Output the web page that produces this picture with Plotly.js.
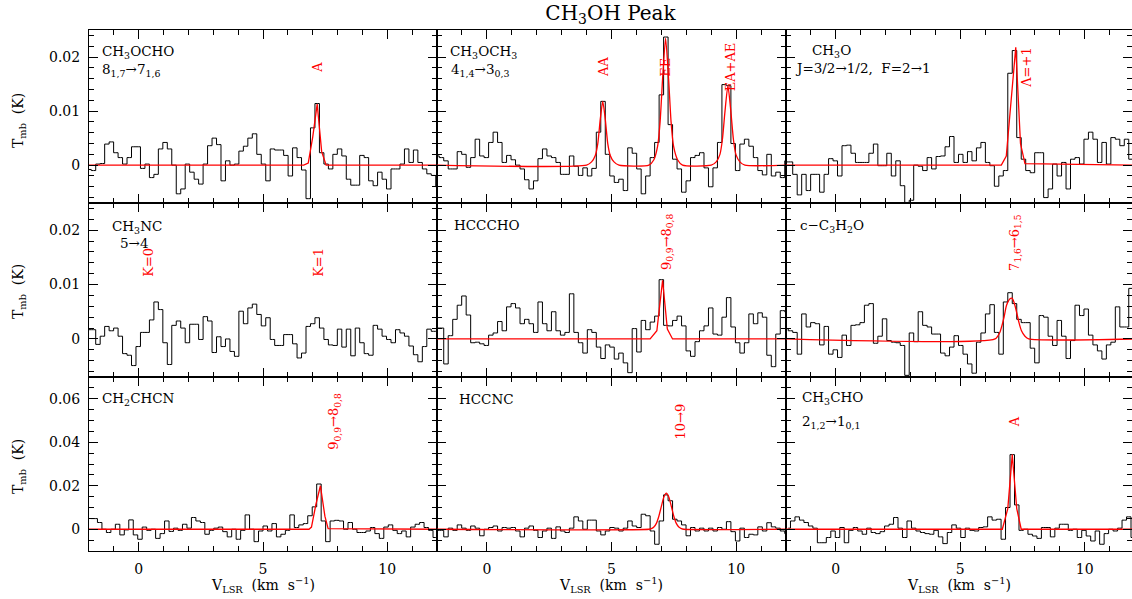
<!DOCTYPE html>
<html><head><meta charset="utf-8">
<script src="https://cdn.plot.ly/plotly-3.0.1.min.js"></script>
<style>html,body{margin:0;padding:0;background:#fff}#chart{width:1132px;height:599px}</style>
</head><body><div id="chart"></div>
<script>
// ---------------- DATA ----------------
const channelWidth = 0.18; // km/s
const firstChannelVel = [-2, -2, -2, -2, -2, -2, -1.93, -2, -1.91];

const spec_CH3OCHO = [-0.0008,-0.001,0.0002,0.0003,0.0039,0.0043,0.0023,0.0014,0.0002,0.0014,
 0.0034,0.0034,-0.0006,0.0002,-0.0023,-0.0017,0.003,0.0042,0.003,0.0,
 -0.0053,-0.0044,0.0002,-0.0013,-0.0026,-0.0035,0.0002,0.0036,0.005,0.0038,
 -0.0029,0.0008,0.0,0.0002,0.0026,0.0035,0.005,0.0058,0.002,0.0002,
 -0.0029,0.003,0.0028,0.0028,0.0018,-0.002,0.0032,0.0014,-0.0009,-0.0062,
 0.0069,0.0114,0.0023,0.0002,-0.0007,0.002,0.003,0.0017,-0.0026,-0.0037,
 -0.0037,0.0018,0.0014,-0.0029,-0.0038,-0.0013,-0.0026,-0.0044,-0.0007,-0.0007,
 0.0002,0.003,0.0005,0.0028,0.0005,-0.0007,-0.0016,-0.0019,-0.004];
const spec_CH3OCH3 = [0.0017,0.0014,0.0008,-0.0007,-0.0007,0.0025,0.002,-0.0004,0.0014,0.0048,
 0.0017,0.0014,0.0042,0.0061,0.0042,0.0005,0.0018,0.001,0.0,-0.0007,
 -0.0027,-0.0044,-0.0029,0.0012,0.003,0.0017,0.0014,0.0005,-0.0017,-0.0017,
 0.0017,-0.0002,-0.0019,-0.0005,-0.002,-0.0006,0.0061,0.0118,0.002,-0.002,
 -0.0032,-0.0026,-0.0047,0.0032,0.0022,-0.0007,-0.0053,-0.002,0.0014,0.0042,
 0.013,0.0237,0.0075,0.0011,-0.0007,-0.005,-0.0029,0.0014,0.0018,0.0023,
 -0.0005,-0.004,-0.0005,0.0042,0.0149,0.0147,0.004,-0.001,0.0039,0.0048,
 0.0035,0.0014,-0.001,-0.0018,0.002,-0.002,-0.0013,-0.0023,0.0008];
const spec_CH3O = [0.0006,0.0006,-0.0017,-0.0055,-0.0017,-0.0047,-0.0017,-0.0017,-0.005,-0.0017,
 0.0012,0.0008,-0.002,0.0036,0.0037,0.0022,0.0005,0.0005,0.0005,0.0022,
 0.0039,-0.0001,-0.0001,0.0022,-0.002,0.0008,-0.0038,-0.0069,-0.0065,0.0,
 -0.0002,-0.001,0.0014,-0.0007,0.0016,0.0017,0.0034,0.0053,0.0005,0.002,
 0.0005,0.0025,0.0008,0.0032,0.0042,0.0005,-0.0001,-0.0039,-0.002,-0.001,
 0.017,0.0212,0.0051,0.0011,-0.001,-0.0014,0.0023,0.0023,-0.006,-0.0044,
 0.0002,-0.002,0.0005,-0.0044,0.0011,0.0014,0.0002,0.0048,0.0061,0.0048,
 0.0005,0.0042,0.0002,0.0051,0.0048,0.0036,0.0048,0.0011,0.0011];
const spec_CH3NC = [0.0017,0.0017,-0.001,0.0005,0.0023,0.0015,0.002,0.0005,-0.0027,-0.003,
 -0.0049,-0.0014,0.0012,0.0012,0.0035,0.0068,0.0054,-0.0007,-0.0047,0.0025,
 0.0033,0.002,-0.0007,0.0027,0.0027,-0.0001,0.0041,0.0033,-0.0025,0.0004,
 -0.0014,0.0,-0.0023,-0.0032,0.0051,0.0028,0.0057,0.0064,0.0045,0.0024,
 0.0039,-0.0001,-0.0012,-0.0012,0.0008,0.0008,-0.0009,-0.0035,-0.0026,0.0023,
 0.0028,0.0039,0.002,-0.0001,-0.0011,-0.0012,0.0018,-0.0015,0.0018,-0.0031,
 0.002,-0.0007,-0.0027,-0.003,0.0025,0.0018,0.0005,-0.0001,-0.0007,0.0017,
 0.0011,0.0005,-0.0013,-0.0029,-0.0042,-0.0014,0.0018,0.0014,0.0014];
const spec_HCCCHO = [0.002,0.002,-0.0046,0.0006,0.0036,0.0062,0.0079,0.0044,-0.0007,-0.0006,
 -0.0009,-0.0012,0.0007,0.0011,0.0032,0.0015,0.0059,0.0065,0.0057,0.0028,
 0.0036,0.0028,0.0012,0.0068,0.0028,0.0015,0.005,0.0015,0.0007,0.0012,
 0.0083,0.0012,-0.0007,-0.0026,0.0017,0.0012,-0.0015,-0.0036,-0.0011,-0.0015,
 -0.0037,-0.0026,-0.0044,-0.0062,0.0019,-0.0024,0.0034,0.0017,0.0031,0.0042,
 0.0109,0.0025,0.0024,0.0034,0.0042,0.0024,-0.0022,-0.0032,-0.0005,0.0015,
 0.0024,0.0057,0.0009,0.0007,0.004,0.0076,0.0022,-0.0007,-0.0026,-0.0007,
 0.0046,0.0028,0.0048,0.004,-0.003,-0.0051,0.0009,0.0052,0.005];
const spec_cC3H2O = [0.0019,0.0015,0.0012,-0.0028,0.0046,0.0022,0.003,0.0028,-0.0011,0.0023,
 -0.0028,-0.002,-0.0034,0.0007,-0.0012,0.0025,0.0026,0.003,0.0062,0.0065,
 -0.0008,0.0005,0.0037,-0.0003,-0.0006,-0.0007,-0.0012,-0.0067,0.0011,-0.0005,
 0.005,0.0025,0.0022,0.0009,0.0009,-0.0026,-0.0031,-0.0015,0.0006,-0.0012,
 -0.0028,-0.0046,-0.0063,-0.0006,0.0011,0.0046,0.0063,0.0012,-0.0028,0.0068,
 0.0085,0.0065,0.0036,0.003,0.003,-0.0017,-0.0044,0.0043,0.004,0.0005,
 -0.0012,0.0034,0.0005,-0.0036,-0.0003,0.0062,0.0043,0.0055,0.0007,-0.0011,
 -0.0022,-0.0037,-0.0011,-0.0006,0.0059,0.0022,0.0022,0.0093,0.0093];
const spec_CH2CHCN = [0.0049,0.0049,0.0031,0.0,-0.0015,0.0,0.0023,-0.0026,-0.0003,0.0043,
 -0.0026,-0.0046,0.001,-0.0005,0.0,-0.0042,-0.002,0.0038,-0.001,0.0005,
 -0.0005,0.0023,0.0005,0.0054,0.0038,0.0031,-0.0023,-0.0005,0.0005,0.001,
 -0.0011,-0.0035,0.0,-0.0046,-0.0005,0.0066,0.0,-0.0057,-0.0008,0.0015,
 -0.0008,0.0026,-0.0035,-0.0023,-0.0005,0.0066,0.0008,0.002,0.0026,0.0062,
 0.0103,0.0208,0.0038,-0.0057,0.0038,0.0041,0.0038,0.0,0.0031,0.0,
 -0.0015,-0.0015,-0.0008,0.0008,-0.002,-0.0042,0.001,0.002,-0.0005,-0.002,
 -0.0008,-0.0035,0.001,0.0023,0.0031,0.0008,-0.0005,-0.0038,-0.0072];
const spec_HCCNC = [-0.0005,-0.0005,-0.0035,0.0005,-0.0005,0.002,0.0005,-0.0005,0.0015,0.0005,
 -0.003,0.0,0.0008,0.0015,-0.0008,0.0008,0.0005,0.0008,-0.0008,-0.0035,
 0.0005,0.0015,-0.0005,-0.0038,-0.0008,0.0005,-0.0042,0.0011,-0.0008,-0.0015,
 0.0005,0.0057,0.0038,0.0,0.0042,0.0042,-0.0008,-0.0026,-0.0008,0.0008,
 0.0005,-0.0008,0.0005,0.0038,0.0015,0.0008,0.0069,0.0062,-0.0008,-0.0069,
 0.0038,0.0158,0.0131,0.0046,0.0038,0.002,-0.003,0.0008,-0.0008,0.0005,
 -0.0008,0.0005,-0.0008,0.0008,0.0,0.0035,-0.0011,-0.0054,0.0005,-0.0038,
 -0.0023,-0.0026,0.0011,-0.0008,0.003,0.0011,0.0005,-0.0008,-0.002];
const spec_CH3CHO = [0.0005,0.0038,0.0057,0.0042,0.0031,0.0015,0.0005,-0.0062,-0.0062,-0.0038,
 -0.0008,-0.0038,0.0008,-0.0062,-0.0005,0.0008,-0.0008,-0.0023,0.0005,-0.0015,
 -0.002,-0.0011,0.0015,0.0023,0.0054,0.0005,-0.0038,0.0038,0.0005,-0.0008,
 -0.0015,-0.002,-0.0023,-0.0005,-0.0035,-0.0066,-0.0015,0.002,0.0005,-0.0038,
 0.0005,-0.0005,-0.0008,0.0008,0.0011,0.0057,0.0042,0.0046,-0.0046,0.01,
 0.0343,0.0112,-0.0005,0.0,-0.0023,-0.0031,-0.0042,0.0008,0.0008,-0.0035,
 0.0005,0.0023,0.0023,-0.0005,0.0,-0.0038,-0.0005,-0.0031,-0.0054,-0.0008,
 -0.0069,-0.002,0.0,-0.0008,0.0005,0.0042,0.0057,-0.0038];

// Gaussian fits (red)
const fitVel_CH3OCHO = [-2, 6.64, 6.82, 7.0, 7.18, 7.36, 7.54, 12];
const fitT_CH3OCHO   = [0, 0, 0.0004, 0.0052, 0.0113, 0.0025, 0, 0];
const fitVel_CH3OCH3 = [-2,4.0,4.2,4.35,4.45,4.55,4.65,4.75,4.85,4.95,5.1,5.3,
 6.5,6.7,6.85,6.95,7.05,7.17,7.29,7.39,7.49,7.65,7.85,
 9.0,9.2,9.35,9.45,9.55,9.67,9.79,9.89,9.99,10.15,10.35,12];
const fitT_CH3OCH3 = [0,0,0.0006,0.0018,0.004,0.0085,0.0118,0.0085,0.004,0.0018,0.0006,0,
 0,0.001,0.0035,0.008,0.016,0.0235,0.016,0.008,0.0035,0.001,0,
 0,0.0006,0.002,0.0048,0.0098,0.0147,0.0098,0.0048,0.002,0.0006,0,0];
const fitVel_CH3O = [-2, 6.65, 6.85, 7.23, 7.42, 7.6, 12];
const fitT_CH3O   = [0, 0, 0.0017, 0.0218, 0.004, 0.0003, 0];
const fitVel_HCCCHO = [-2, 6.55, 6.82, 7.05, 7.24, 7.45, 12];
const fitT_HCCCHO   = [0, 0, 0.0015, 0.0108, 0.0018, 0, 0];
const fitVel_cC3H2O = [-2, 6.4, 6.59, 6.75, 6.86, 7.0, 7.08, 7.17, 7.26, 7.36, 7.46, 7.6, 7.75, 12];
const fitT_cC3H2O   = [0, 0, 0.0012, 0.0038, 0.0062, 0.0074, 0.0075, 0.0066, 0.005, 0.003, 0.0015, 0.0005, 0, 0];
const fitVel_CH2CHCN = [-2, 6.85, 6.95, 7.13, 7.31, 7.49, 7.62, 12];
const fitT_CH2CHCN   = [0, 0, 0.001, 0.0115, 0.02, 0.006, 0.0003, 0];
const fitVel_HCCNC = [-2,6.5,6.6,6.7,6.8,6.9,7.0,7.1,7.2,7.3,7.4,7.5,7.6,7.7,7.8,7.9,12];
const fitT_HCCNC   = [0,0,0.0003,0.001,0.0027,0.006,0.0105,0.0148,0.0166,0.0148,0.0105,0.006,0.0027,0.001,0.0003,0,0];
const fitVel_CH3CHO = [-2, 6.69, 6.91, 7.09, 7.27, 7.45, 12];
const fitT_CH3CHO   = [0, 0, 0.0095, 0.0343, 0.0095, 0, 0];

const titleText = "CH<sub>3</sub>OH Peak";
const moleculeNames = ["CH<sub>3</sub>OCHO","CH<sub>3</sub>OCH<sub>3</sub>","CH<sub>3</sub>O",
 "CH<sub>3</sub>NC","HCCCHO","c\u2212C<sub>3</sub>H<sub>2</sub>O",
 "CH<sub>2</sub>CHCN","HCCNC","CH<sub>3</sub>CHO"];
const transitions = ["8<sub>1,7</sub>\u21927<sub>1,6</sub>","4<sub>1,4</sub>\u21923<sub>0,3</sub>",
 "J=3/2\u21921/2,  F=2\u21921","5\u21924","","","","","2<sub>1,2</sub>\u21921<sub>0,1</sub>"];
const lineLabels = [["A"],["AA","EE","EA+AE"],["\u039b=+1"],["K=0","K=1"],
 ["9<sub>0,9</sub>\u21928<sub>0,8</sub>"],["7<sub>1,6</sub>\u21926<sub>1,5</sub>"],
 ["9<sub>0,9</sub>\u21928<sub>0,8</sub>"],["10\u21929"],["A"]];
const lineLabelVel = [[7.19],[4.65,7.17,9.76],[7.63],[0.36,7.2],[7.22],[7.19],[7.87],[7.75],[7.19]];
const yTitle = "T<sub>mb</sub>  (K)";
const xTitle = "V<sub>LSR</sub>  (km  s<sup>\u22121</sup>)";

// ---------------- LAYOUT / PRESENTATION ----------------
const spectra = [spec_CH3OCHO,spec_CH3OCH3,spec_CH3O,spec_CH3NC,spec_HCCCHO,spec_cC3H2O,spec_CH2CHCN,spec_HCCNC,spec_CH3CHO];
const fits = [[fitVel_CH3OCHO,fitT_CH3OCHO,'linear'],[fitVel_CH3OCH3,fitT_CH3OCH3,'spline'],[fitVel_CH3O,fitT_CH3O,'linear'],
 null,[fitVel_HCCCHO,fitT_HCCCHO,'linear'],[fitVel_cC3H2O,fitT_cC3H2O,'spline'],
 [fitVel_CH2CHCN,fitT_CH2CHCN,'linear'],[fitVel_HCCNC,fitT_HCCNC,'spline'],[fitVel_CH3CHO,fitT_CH3CHO,'linear']];

const colDom = [[0,0.33365],[0.33365,0.66826],[0.66826,1]];
const rowDom = [[0.66795,1],[0.33397,0.66795],[0,0.33397]];
const xRng = [[-2,12],[-2,12],[-2,11.9]];
const yRng = [[-0.007,0.025],[-0.007,0.025],[-0.01,0.07]];
const yDt = [0.01,0.01,0.02], yMin = [0.002,0.002,0.005];
// label placement (panel-specific text positions, fractions of panel height)
const nameVel = [-1.57,-1.57,-1.04,-1.16,-1.4,-1.53,-1.57,-1.2,-1.45];
const transVel = [-1.55,-1.53,-1.73,-0.84,0,0,0,0,-1.45];
const nameYfrac = [0.872,0.872,0.878,0.86,0.875,0.87,0.875,0.875,0.878];
const transYfrac = [0.768,0.768,0.782,0.77,0,0,0,0,0.74];
const labelYfrac = [0.785,0.785,0.78,0.66,0.78,0.775,0.745,0.745,0.745];

const FONT = 'DejaVu Serif';
const data = [], annotations = [];
const layout = {
  width:1132, height:599, margin:{l:89,r:0,t:30,b:48},
  paper_bgcolor:'#fff', plot_bgcolor:'#fff', showlegend:false,
  font:{family:FONT, color:'#000', size:14},
  title:{text:titleText, x:0.5, xref:'paper', xanchor:'center', y:1-13/599, yanchor:'middle', font:{family:FONT,size:20,color:'#000'}},
  annotations
};
for (let k=0;k<9;k++){
  const r = Math.floor(k/3), c = k%3;
  const xa = 'xaxis'+(k?k+1:''), ya = 'yaxis'+(k?k+1:'');
  const xs = 'x'+(k?k+1:''), ys = 'y'+(k?k+1:'');
  layout[xa] = {domain:colDom[c], range:xRng[c], anchor:ys, showline:true, linewidth:1, linecolor:'#000', mirror:'ticks',
    ticks:'inside', ticklen:9, tickwidth:1, tickcolor:'#000', tick0:0, dtick:5,
    minor:{dtick:1, ticks:'inside', ticklen:5, tickwidth:1, tickcolor:'#000', showgrid:false},
    showgrid:false, zeroline:false, showticklabels:r===2, ticklabelstandoff:5,
    tickfont:{family:FONT,size:14,color:'#000'}, fixedrange:true};
  layout[ya] = {domain:rowDom[r], range:yRng[r], anchor:xs, showline:true, linewidth:1, linecolor:'#000', mirror:'ticks',
    ticks:'inside', ticklen:9, tickwidth:1, tickcolor:'#000', tick0:0, dtick:yDt[r],
    minor:{dtick:yMin[r], ticks:'inside', ticklen:5, tickwidth:1, tickcolor:'#000', showgrid:false},
    showgrid:false, zeroline:false, showticklabels:c===0, ticklabelstandoff:5,
    tickfont:{family:FONT,size:14,color:'#000'}, fixedrange:true};
  const vals = spectra[k];
  const vel = vals.map((_,i)=> firstChannelVel[k] + i*channelWidth);
  data.push({type:'scatter', mode:'lines', x:vel, y:vals, xaxis:xs, yaxis:ys,
    line:{shape:'hvh', color:'#000', width:1}, hoverinfo:'skip'});
  if (fits[k]) data.push({type:'scatter', mode:'lines', x:fits[k][0], y:fits[k][1], xaxis:xs, yaxis:ys,
    line:{shape:fits[k][2], smoothing:0.6, color:'#ff0000', width:1.3}, hoverinfo:'skip'});
  const y0 = yRng[r][0], span = yRng[r][1]-yRng[r][0];
  annotations.push({xref:xs, yref:ys, x:nameVel[k], y:y0+span*nameYfrac[k], text:moleculeNames[k], showarrow:false,
    xanchor:'left', yanchor:'middle', font:{family:FONT,size:13.5,color:'#000'}});
  if (transitions[k]) annotations.push({xref:xs, yref:ys, x:transVel[k], y:y0+span*transYfrac[k], text:transitions[k], showarrow:false,
    xanchor:'left', yanchor:'middle', font:{family:FONT,size:13.5,color:'#000'}});
  lineLabels[k].forEach((t,j)=> annotations.push({xref:xs, yref:ys, x:lineLabelVel[k][j], y:y0+span*labelYfrac[k], text:t,
    showarrow:false, textangle:-90, xanchor:'center', yanchor:'middle', font:{family:FONT,size:13,color:'#ff0000'}}));
}
const rowTitleY = [(551-121)/521, (551-292)/521, (551-467)/521];
rowTitleY.forEach(y=> annotations.push({xref:'paper', yref:'paper', x:(19-89)/1043, y:y, text:yTitle, textangle:-90,
  showarrow:false, xanchor:'center', yanchor:'middle', font:{family:FONT,size:14,color:'#000'}}));
[ (263-89)/1043, (611-89)/1043, (959-89)/1043 ].forEach(x=> annotations.push({xref:'paper', yref:'paper', x:x, y:(551-585)/521,
  text:xTitle, showarrow:false, xanchor:'center', yanchor:'middle', font:{family:FONT,size:14,color:'#000'}}));

Plotly.newPlot('chart', data, layout, {displayModeBar:false, staticPlot:true});
</script></body></html>
